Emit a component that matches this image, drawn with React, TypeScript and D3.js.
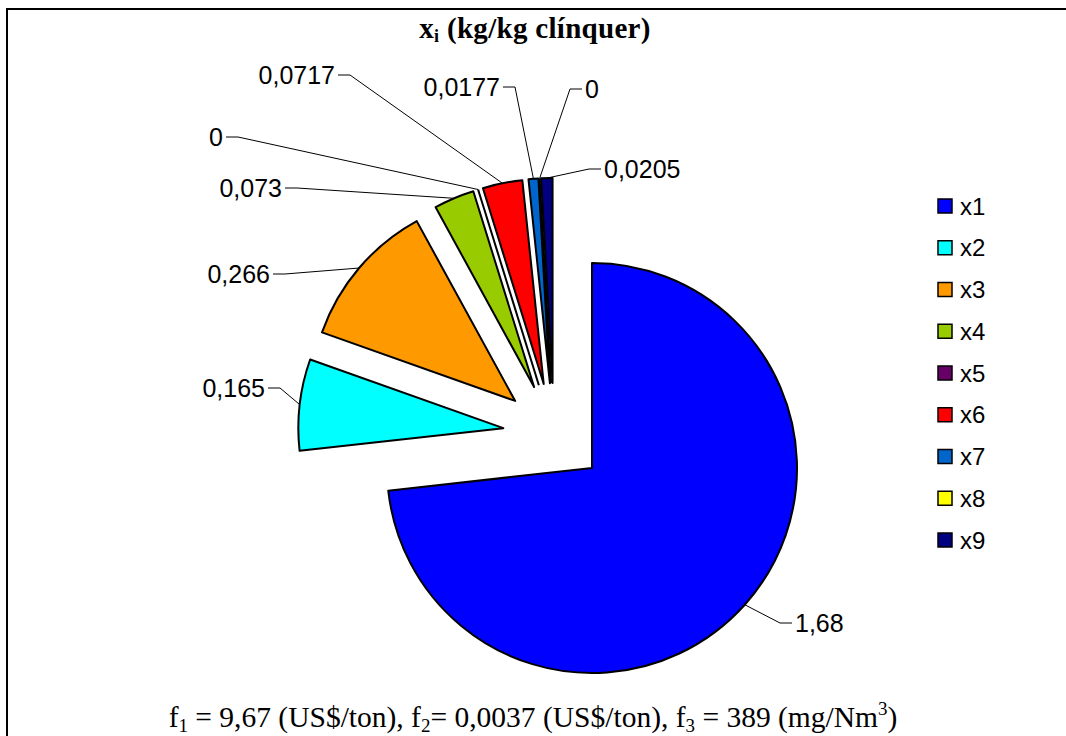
import React from "react";
import * as d3 from "d3";

const categories = ["x1", "x2", "x3", "x4", "x5", "x6", "x7", "x8", "x9"];
const values = [1.68, 0.165, 0.266, 0.073, 0, 0.0717, 0.0177, 0, 0.0205];
const valueLabels = ["1,68", "0,165", "0,266", "0,073", "0", "0,0717", "0,0177", "0", "0,0205"];
const colors = ["#0000FF", "#00FFFF", "#FF9900", "#99CC00", "#660066", "#FF0000", "#0066CC", "#FFFF00", "#000080"];

// label layout (text edge x, center y, side)
const labelLayout = [
  { side: "right", x: 795, y: 623 },
  { side: "left", x: 265, y: 388 },
  { side: "left", x: 270, y: 274 },
  { side: "left", x: 282, y: 188 },
  { side: "left", x: 223, y: 137 },
  { side: "left", x: 335, y: 75 },
  { side: "left", x: 500, y: 87 },
  { side: "right", x: 585, y: 89 },
  { side: "right", x: 604, y: 169 },
];

const W = 1066;
const H = 736;
const cx = 554;
const cy = 434;
const R = 205;
const EXPLODE = 51;

export default function App() {
  const pie = d3
    .pie<number>()
    .sort(null)
    .value((d) => d)
    .startAngle(0)
    .endAngle(2 * Math.PI);
  const arcs = pie(values);
  const arcGen = d3.arc<d3.PieArcDatum<number>>().innerRadius(0).outerRadius(R);

  const legendY = d3.scalePoint<string>().domain(categories).range([206, 540]);

  return (
    <svg
      width={W}
      height={H}
      style={{ position: "absolute", left: 0, top: 0, background: "#fff" }}
    >
      <rect x={0} y={0} width={W} height={H} fill="#fff" />
      <path d={`M7,${H + 5} V9 H${W + 5}`} fill="none" stroke="#000" strokeWidth={2} />

      {/* title */}
      <text
        x={535}
        y={38}
        textAnchor="middle"
        fontFamily="'Liberation Serif', 'Times New Roman', serif"
        fontWeight="bold"
        fontSize={29}
        letterSpacing={0.3}
        fill="#000"
      >
        <tspan>x</tspan>
        <tspan fontSize={18} dy={4}>i</tspan>
        <tspan dy={-4}> (kg/kg clínquer)</tspan>
      </text>

      {/* slices */}
      {arcs.map((a, i) => {
        const mid = (a.startAngle + a.endAngle) / 2;
        const dx = Math.sin(mid) * EXPLODE;
        const dy = -Math.cos(mid) * EXPLODE;
        const tx = cx + dx;
        const ty = cy + dy;
        if (a.endAngle - a.startAngle < 1e-6) {
          const ex = Math.sin(mid) * R;
          const ey = -Math.cos(mid) * R;
          return (
            <g key={i} transform={`translate(${tx},${ty})`}>
              <line x1={0} y1={0} x2={ex} y2={ey} stroke="#000" strokeWidth={2} />
            </g>
          );
        }
        return (
          <path
            key={i}
            d={arcGen(a) || ""}
            transform={`translate(${tx},${ty})`}
            fill={colors[i]}
            stroke="#000"
            strokeWidth={2}
            strokeLinejoin="round"
          />
        );
      })}

      {/* leader lines and labels */}
      {arcs.map((a, i) => {
        const mid = (a.startAngle + a.endAngle) / 2;
        const px = cx + Math.sin(mid) * (EXPLODE + R);
        const py = cy - Math.cos(mid) * (EXPLODE + R);
        const L = labelLayout[i];
        const right = L.side === "right";
        const ex = right ? L.x - 15 : L.x + 15;
        const sx = right ? L.x - 3 : L.x + 3;
        return (
          <g key={"l" + i}>
            <polyline
              points={`${px},${py} ${ex},${L.y} ${sx},${L.y}`}
              fill="none"
              stroke="#000"
              strokeWidth={1}
            />
            <text
              x={L.x}
              y={L.y}
              dy="0.36em"
              textAnchor={right ? "start" : "end"}
              fontFamily="'Liberation Sans', Arial, sans-serif"
              fontSize={25}
              fill="#000"
            >
              {valueLabels[i]}
            </text>
          </g>
        );
      })}

      {/* legend */}
      {categories.map((c, i) => {
        const y = legendY(c) as number;
        return (
          <g key={"g" + c}>
            <rect x={938} y={y - 7} width={14} height={14} fill={colors[i]} stroke="#000" strokeWidth={1.5} />
            <text
              x={960}
              y={y}
              dy="0.36em"
              fontFamily="'Liberation Sans', Arial, sans-serif"
              fontSize={24}
              fill="#000"
            >
              {c}
            </text>
          </g>
        );
      })}

      {/* footer */}
      <text
        x={533}
        y={727}
        textAnchor="middle"
        fontFamily="'Liberation Serif', 'Times New Roman', serif"
        fontSize={29.5}
        fill="#000"
      >
        <tspan>f</tspan>
        <tspan fontSize={19} dy={5}>1</tspan>
        <tspan dy={-5}> = 9,67 (US$/ton), f</tspan>
        <tspan fontSize={19} dy={5}>2</tspan>
        <tspan dy={-5}>= 0,0037 (US$/ton), f</tspan>
        <tspan fontSize={19} dy={5}>3</tspan>
        <tspan dy={-5}> = 389 (mg/Nm</tspan>
        <tspan fontSize={19} dy={-12}>3</tspan>
        <tspan dy={12}>)</tspan>
      </text>
    </svg>
  );
}
